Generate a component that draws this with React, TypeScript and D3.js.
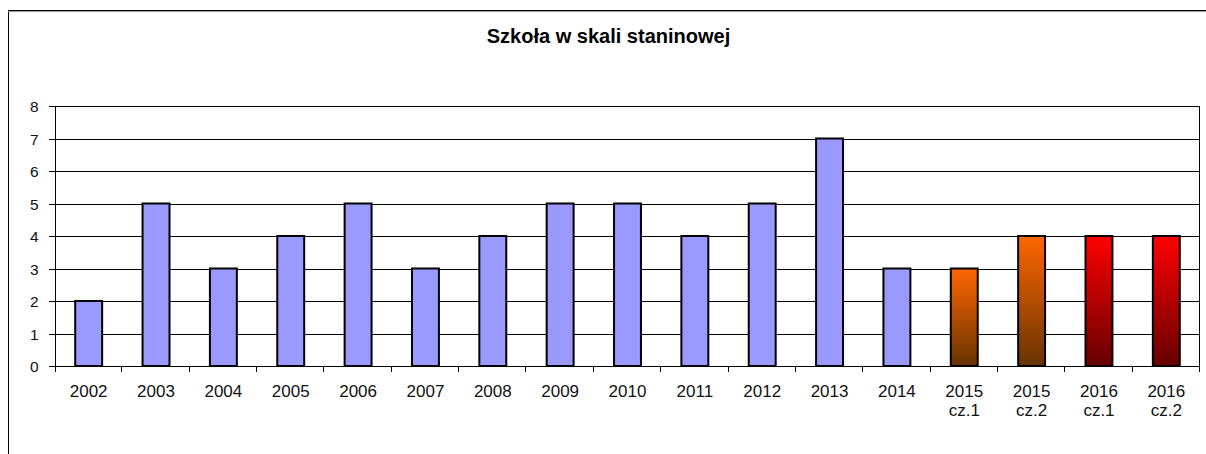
import React from 'react';
import * as d3 from 'd3';

const categories = ['2002','2003','2004','2005','2006','2007','2008','2009','2010','2011','2012','2013','2014','2015\ncz.1','2015\ncz.2','2016\ncz.1','2016\ncz.2'];
const values = [2,5,3,4,5,3,4,5,5,4,5,7,3,3,4,4,4];
const fillKinds = ['blue','blue','blue','blue','blue','blue','blue','blue','blue','blue','blue','blue','blue','orange','orange','red','red'];
const yTicks = [0,1,2,3,4,5,6,7,8];
const title = 'Szkoła w skali staninowej';

export default function App() {
  const W = 1206, H = 454;
  const left = 55, right = 1200, top = 106, bottom = 366;
  const x = d3.scaleBand<string>().domain(categories).range([left, right]).paddingInner(0).paddingOuter(0);
  const y = d3.scaleLinear().domain([0, 8]).range([bottom, top]);
  const bw = x.bandwidth() * 0.4;
  const font = 'Arial, "Liberation Sans", sans-serif';
  const fillFor = (k: string) => k === 'blue' ? '#9999FF' : k === 'orange' ? 'url(#gOrange)' : 'url(#gRed)';
  return (
    <svg width={W} height={H} style={{ position: 'absolute', left: 0, top: 0, background: '#fff' }}>
      <defs>
        <linearGradient id="gOrange" x1="0" y1="0" x2="0" y2="1">
          <stop offset="0" stopColor="#FF6600" />
          <stop offset="1" stopColor="#663300" />
        </linearGradient>
        <linearGradient id="gRed" x1="0" y1="0" x2="0" y2="1">
          <stop offset="0" stopColor="#FF0000" />
          <stop offset="1" stopColor="#660000" />
        </linearGradient>
      </defs>
      <rect x={0} y={0} width={W} height={H} fill="#fff" />
      {/* outer frame */}
      <line x1={8.5} y1={10} x2={8.5} y2={H} stroke="#000" strokeWidth={1} />
      <line x1={8} y1={10.5} x2={W} y2={10.5} stroke="#000" strokeWidth={1} />
      <line x1={8} y1={11.5} x2={W} y2={11.5} stroke="#999" strokeWidth={1} />
      <text x={608.5} y={43} textAnchor="middle" fontFamily={font} fontWeight="bold" fontSize={20} fill="#000">{title}</text>
      {/* gridlines */}
      {yTicks.map(t => (
        <g key={t}>
          <line x1={left - 6} x2={right} y1={Math.round(y(t)) + 0.5} y2={Math.round(y(t)) + 0.5} stroke="#000" strokeWidth={1} />
          <text x={38.5} y={y(t) + 6} textAnchor="end" fontFamily={font} fontSize={15.5} fill="#111">{t}</text>
        </g>
      ))}
      <line x1={left + 0.5} x2={left + 0.5} y1={top} y2={bottom} stroke="#000" />
      <line x1={right - 0.5} x2={right - 0.5} y1={top} y2={bottom} stroke="#000" />
      {/* x ticks */}
      {categories.map((c, i) => (
        <line key={c} x1={Math.round(x(c)! + x.bandwidth()) - 0.5} x2={Math.round(x(c)! + x.bandwidth()) - 0.5} y1={bottom} y2={bottom + 6} stroke="#000" />
      ))}
      <line x1={left + 0.5} x2={left + 0.5} y1={bottom} y2={bottom + 6} stroke="#000" />
      {/* bars */}
      {categories.map((c, i) => {
        const cx = x(c)! + x.bandwidth() / 2;
        return (
          <rect key={c} x={cx - bw / 2} y={y(values[i])} width={bw} height={bottom - y(values[i])} fill={fillFor(fillKinds[i])} stroke="#000" strokeWidth={2} />
        );
      })}
      {/* x labels */}
      {categories.map(c => {
        const cx = x(c)! + x.bandwidth() / 2;
        const lines = c.split('\n');
        return (
          <text key={c} textAnchor="middle" fontFamily={font} fontSize={17} fill="#111">
            {lines.map((l, j) => <tspan key={j} x={cx} y={396.5 + j * 19}>{l}</tspan>)}
          </text>
        );
      })}
    </svg>
  );
}
